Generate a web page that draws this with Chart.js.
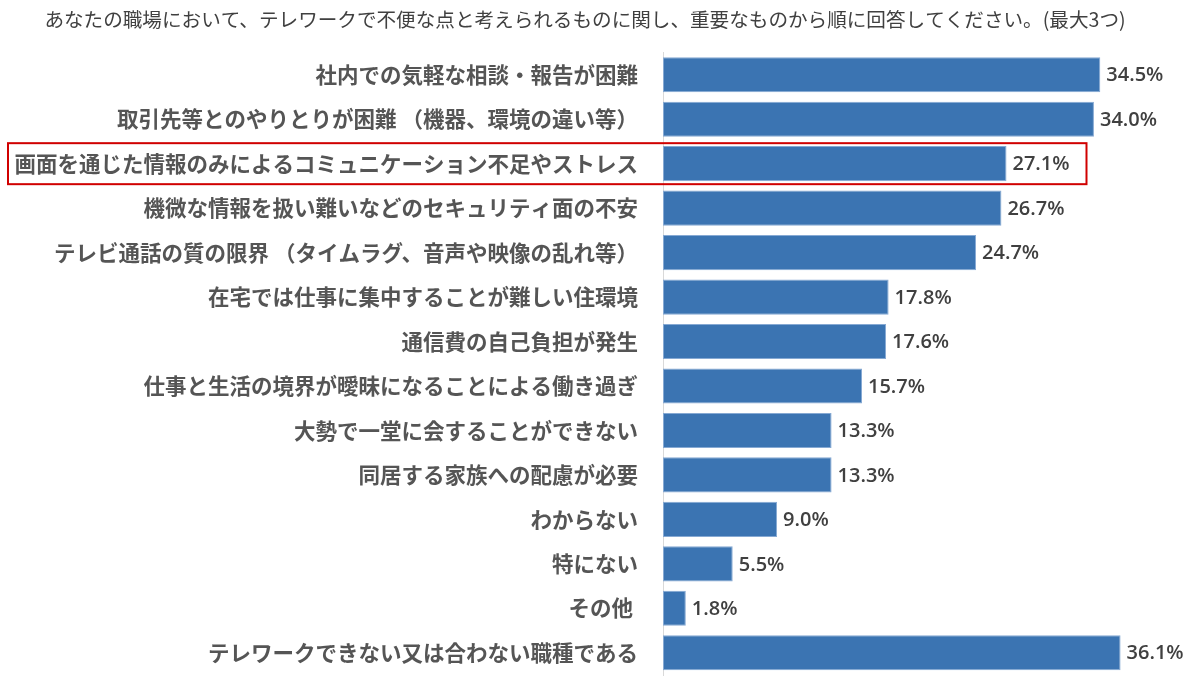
<!DOCTYPE html>
<html>
<head>
<meta charset="utf-8">
<script src="https://cdn.jsdelivr.net/npm/chart.js@4"></script>
<style>
  html, body { margin: 0; padding: 0; background: #fff; overflow: hidden; }
</style>
</head>
<body>
<canvas id="plot" width="1200" height="685"></canvas>
<script>
// 設問と回答割合(%)
const titulo = 'あなたの職場において、テレワークで不便な点と考えられるものに関し、重要なものから順に回答してください。(最大3つ)';
const categorias = [
  '社内での気軽な相談・報告が困難',
  '取引先等とのやりとりが困難 （機器、環境の違い等）',
  '画面を通じた情報のみによるコミュニケーション不足やストレス',
  '機微な情報を扱い難いなどのセキュリティ面の不安',
  'テレビ通話の質の限界 （タイムラグ、音声や映像の乱れ等）',
  '在宅では仕事に集中することが難しい住環境',
  '通信費の自己負担が発生',
  '仕事と生活の境界が曖昧になることによる働き過ぎ',
  '大勢で一堂に会することができない',
  '同居する家族への配慮が必要',
  'わからない',
  '特にない',
  'その他 ',
  'テレワークできない又は合わない職種である'
];
const valores = [34.5, 34.0, 27.1, 26.7, 24.7, 17.8, 17.6, 15.7, 13.3, 13.3, 9.0, 5.5, 1.8, 36.1];
// 赤枠で囲む項目
const destacado = 2;

const fuenteJP = '"Noto Sans CJK JP", "Noto Sans", sans-serif';

// 棒の右に値を表示
const etiquetasValor = {
  id: 'etiquetasValor',
  afterDatasetsDraw(chart) {
    const ctx = chart.ctx;
    const meta = chart.getDatasetMeta(0);
    ctx.save();
    ctx.fillStyle = '#404040';
    ctx.font = '600 20px "Open Sans", "Noto Sans", sans-serif';
    ctx.textAlign = 'left';
    ctx.textBaseline = 'middle';
    meta.data.forEach((bar, i) => {
      ctx.fillText(valores[i].toFixed(1) + '%', bar.x + 6, bar.y + 1);
    });
    ctx.restore();
  }
};

// 強調する行の赤枠
const marcoRojo = {
  id: 'marcoRojo',
  afterDraw(chart) {
    const ctx = chart.ctx;
    const y = chart.scales.y.getPixelForValue(destacado);
    const x = chart.scales.x.getPixelForValue(valores[destacado]);
    ctx.save();
    ctx.strokeStyle = '#d00000';
    ctx.lineWidth = 2;
    ctx.strokeRect(8, y - 20.5, x + 80 - 8, 41);
    ctx.restore();
  }
};

let plotRef = document.getElementById('plot');

let config = {
  type: 'bar',
  data: {
    labels: categorias,
    datasets: [
      {
        data: valores,
        backgroundColor: '#3b74b2',
        borderColor: '#86a9d3',
        borderWidth: 1,
        borderSkipped: false,
        categoryPercentage: 1,
        barPercentage: 0.79
      }
    ]
  },
  options: {
    indexAxis: 'y',
    responsive: false,
    animation: false,
    layout: { padding: { left: 0, right: 30, top: 0, bottom: 10 } },
    scales: {
      x: {
        display: false,
        min: 0,
        max: 40
      },
      y: {
        afterFit: (scale) => {
          scale.width = 663;
          scale.paddingTop = 0;
          scale.paddingBottom = 0;
        },
        grid: { display: false, drawTicks: false },
        border: { display: true, color: '#d9d9d9', width: 1 },
        ticks: {
          padding: 25,
          color: '#555555',
          font: { family: fuenteJP, size: 21.5, weight: 'bold' }
        }
      }
    },
    plugins: {
      legend: { display: false },
      tooltip: { enabled: false },
      title: {
        display: true,
        text: titulo,
        color: '#404040',
        font: { family: fuenteJP, size: 19.6, weight: 'normal', lineHeight: 1.2 },
        padding: { top: 8, bottom: 21 }
      }
    }
  },
  plugins: [etiquetasValor, marcoRojo]
};

let chart1 = new Chart(plotRef, config);
</script>
</body>
</html>
